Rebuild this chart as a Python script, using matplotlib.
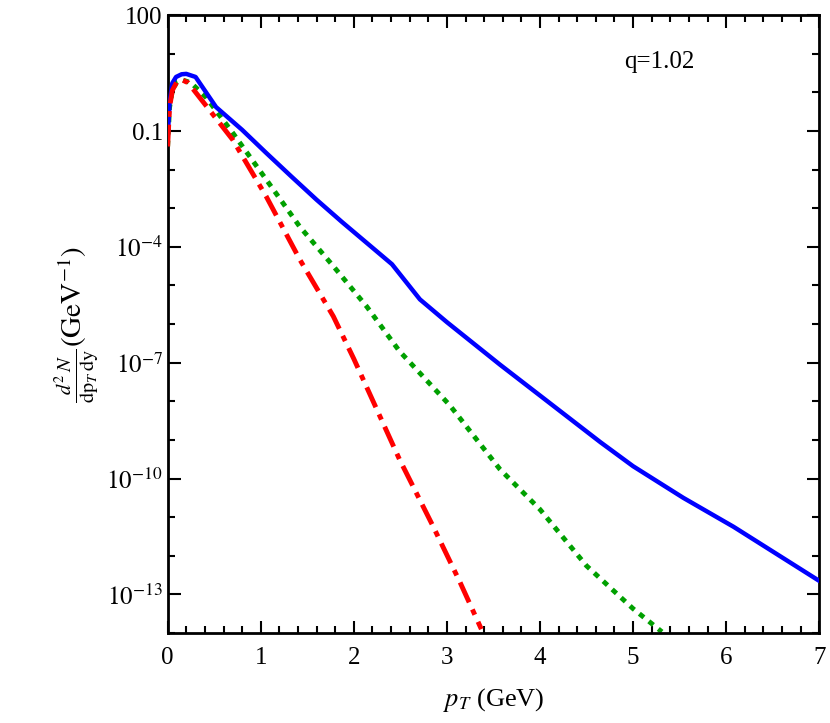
import numpy as np
import matplotlib.pyplot as plt
from matplotlib.ticker import FixedLocator, NullFormatter

plt.rcParams['font.family'] = 'Liberation Serif'
plt.rcParams['mathtext.fontset'] = 'stix'

# values (pT in GeV, log10 of d2N/dpTdy)
pt_blue = [0.0, 0.02, 0.05, 0.09, 0.15, 0.2, 0.3, 0.52, 0.8, 1.06, 1.33, 1.6, 1.87, 2.14,
           2.41, 2.71, 3.0, 3.57, 4.0, 4.65, 5.0, 5.54, 6.08, 7.0]
log_blue = [-1.18, -0.3, 0.24, 0.4, 0.47, 0.48, 0.4, -0.38, -0.97, -1.57, -2.18, -2.78,
            -3.35, -3.9, -4.45, -5.36, -5.95, -7.05, -7.85, -9.06, -9.68, -10.5, -11.25, -12.65]
pt_green = [0.0, 0.02, 0.05, 0.1, 0.15, 0.25, 0.41, 0.7, 1.06, 1.42, 1.78, 2.14, 2.49,
            3.03, 3.57, 4.0, 4.5, 5.0, 5.31]
log_green = [-1.4, -0.4, 0.05, 0.28, 0.33, 0.25, -0.12, -1.05, -2.26, -3.48, -4.5, -5.55,
             -6.7, -8.1, -9.76, -10.8, -12.26, -13.37, -13.97]
pt_red = [0.0, 0.02, 0.05, 0.1, 0.15, 0.22, 0.34, 0.7, 1.06, 1.42, 1.78, 2.0, 2.49,
          2.85, 3.14, 3.37]
log_red = [-1.4, -0.4, 0.05, 0.28, 0.33, 0.25, -0.12, -1.23, -2.7, -4.33, -5.8, -6.9,
           -9.5, -11.23, -12.68, -13.9]

ytick_vals = [100, 0.1, 1e-4, 1e-7, 1e-10, 1e-13]
ytick_labels = ['100', '0.1', r'$10^{-4}$', r'$10^{-7}$', r'$10^{-10}$', r'$10^{-13}$']

fig = plt.figure(figsize=(8.3, 7.23), dpi=100)
ax = fig.add_axes([0.202, 0.1245, 0.785, 0.8545])

ax.plot(pt_blue, 10 ** np.array(log_blue), color='#0000ff', lw=3.2, zorder=3)
ax.plot(pt_green, 10 ** np.array(log_green), color='#00a000', lw=3.5,
        dashes=(1.2, 1.3), zorder=2)
ax.plot(pt_red, 10 ** np.array(log_red), color='#ff0000', lw=3.5,
        dashes=(4.5, 1.6, 1.2, 1.6), zorder=4)

ax.set_yscale('log')
ax.set_xlim(0, 7)
ax.set_ylim(1e-14, 100)
ax.yaxis.set_major_locator(FixedLocator(ytick_vals))
ax.set_yticklabels(ytick_labels)
ax.yaxis.set_minor_locator(FixedLocator([10.0 ** k for k in range(-14, 3)]))
ax.yaxis.set_minor_formatter(NullFormatter())
ax.set_xticks(range(8))
ax.set_xticks(np.arange(0, 7.01, 0.2), minor=True)

ax.tick_params(which='both', direction='in', top=True, right=True, labelsize=18, width=1.5)
ax.tick_params(which='major', length=9)
ax.tick_params(which='minor', length=5)
ax.tick_params(axis='x', pad=10)
for s in ax.spines.values():
    s.set_linewidth(2)

ax.set_xlabel(r'$p_T$ (GeV)', fontsize=19, labelpad=12)
ax.set_ylabel(r'$\frac{d^2\,N}{\mathrm{dp}_T\,\mathrm{dy}}(\mathrm{GeV}^{-1})$', fontsize=21, labelpad=4)
ax.text(0.7, 0.915, 'q=1.02', transform=ax.transAxes, fontsize=18)

fig.savefig('out.png', dpi=100)
